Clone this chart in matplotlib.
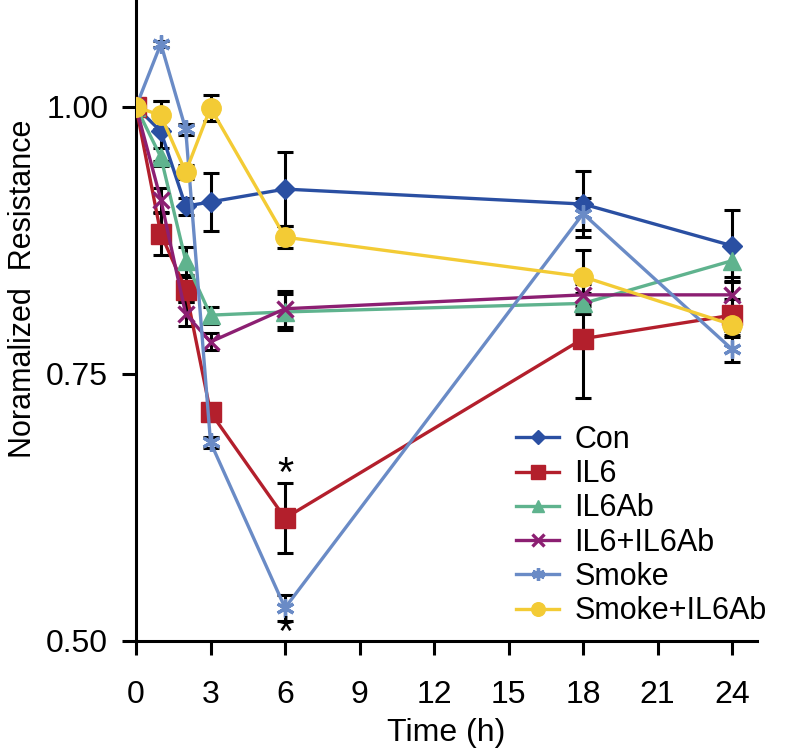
import numpy as np
import matplotlib.pyplot as plt

plt.rcParams['font.family'] = ['Liberation Sans', 'DejaVu Sans']

# data
time_h = [0, 1, 2, 3, 6, 18, 24]
groups = ["Con", "IL6", "IL6Ab", "IL6+IL6Ab", "Smoke", "Smoke+IL6Ab"]

con = [1.000, 0.977, 0.907, 0.911, 0.923, 0.909, 0.870]
con_err = [0, 0.028, 0.008, 0.027, 0.035, 0.031, 0.033]

il6 = [1.000, 0.881, 0.829, 0.714, 0.615, 0.783, 0.805]
il6_err = [0, 0.020, 0.012, 0.008, 0.033, 0.056, 0.015]

il6ab = [1.000, 0.953, 0.856, 0.805, 0.808, 0.816, 0.856]
il6ab_err = [0, 0.008, 0.013, 0.008, 0.017, 0.010, 0.015]

il6_il6ab = [1.000, 0.913, 0.806, 0.780, 0.811, 0.824, 0.824]
il6_il6ab_err = [0, 0.011, 0.011, 0.008, 0.017, 0.010, 0.012]

smoke = [1.000, 1.059, 0.979, 0.686, 0.531, 0.900, 0.773]
smoke_err = [0, 0.003, 0.005, 0.005, 0.012, 0.015, 0.012]

smoke_il6ab = [1.000, 0.992, 0.939, 0.999, 0.878, 0.841, 0.796]
smoke_il6ab_err = [0, 0.013, 0.007, 0.012, 0.010, 0.025, 0.010]

series = [con, il6, il6ab, il6_il6ab, smoke, smoke_il6ab]
errors = [con_err, il6_err, il6ab_err, il6_il6ab_err, smoke_err, smoke_il6ab_err]

colors = ["#2a4fa2", "#b31f2c", "#5fb38e", "#8c1f72", "#6a8bc6", "#f3cb35"]
markers = ["D", "s", "^", "x", (6, 2, 0), "o"]
msizes = [10, 14, 13, 12, 13, 14]

# significance marks at 6 h
star_x = [6, 6]
star_y = [0.655, 0.507]

fig = plt.figure(figsize=(7.88, 7.55), dpi=100)
ax = fig.add_axes([0.1726, 0.151, 0.788, 0.849])

for vals, err, c, m, ms, name in zip(series, errors, colors, markers, msizes, groups):
    ax.errorbar(time_h, vals, yerr=err, fmt='none', ecolor='black',
                elinewidth=2.2, capsize=6, capthick=2.2, zorder=2)
    ax.plot(time_h, vals, color=c, marker=m, markersize=ms, linewidth=2.4,
            markeredgewidth=2.4 if m in ("x", (6, 2, 0)) else 1,
            markeredgecolor=c, label=name, zorder=3)

for sx, sy in zip(star_x, star_y):
    ax.text(sx, sy, "*", fontsize=30, ha='center', va='center')

ax.set_xlim(0, 25)
ax.set_ylim(0.5, 1.1)
ax.set_xticks(range(0, 25, 3))
ax.set_yticks([0.50, 0.75, 1.00])
ax.set_yticklabels(["0.50", "0.75", "1.00"])

for s in ["top", "right"]:
    ax.spines[s].set_visible(False)
for s in ["left", "bottom"]:
    ax.spines[s].set_linewidth(2.2)
ax.tick_params(direction='out', length=10, width=2.2, labelsize=23)
ax.tick_params(axis='x', pad=18)
ax.tick_params(axis='y', pad=10)

ax.set_xlabel("Time (h)", fontsize=23, labelpad=6)
ax.set_ylabel("Noramalized  Resistance", fontsize=22)
ax.yaxis.set_label_coords(-0.158, 0.55)

ax.legend(loc='lower right', bbox_to_anchor=(1.06, -0.02), frameon=False,
          fontsize=22, handlelength=1.4, handletextpad=0.5,
          labelspacing=0.14, markerscale=0.7, borderaxespad=0.5)

fig.savefig("out.png", dpi=100)
